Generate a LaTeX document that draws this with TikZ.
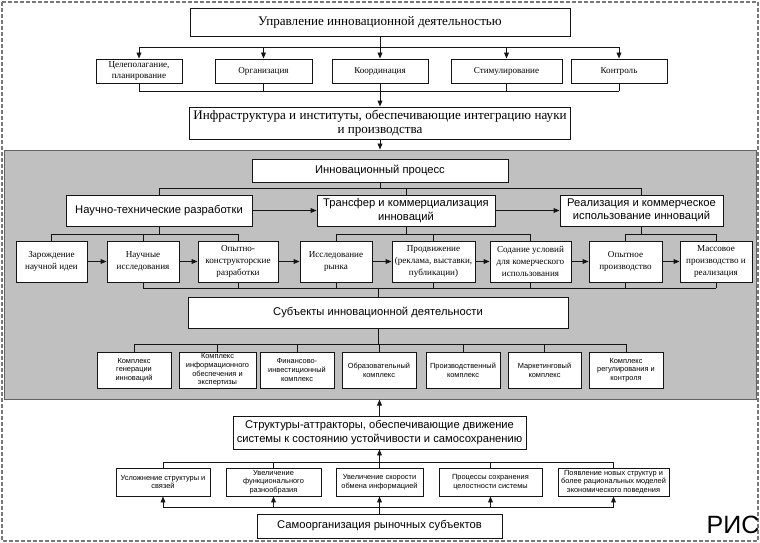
\documentclass[tikz,border=0pt]{standalone}
\usepackage{fontspec}
\setmainfont{Liberation Serif}
\setsansfont{Liberation Sans}
\usetikzlibrary{arrows.meta}
\definecolor{areagray}{RGB}{192,192,192}
\definecolor{areaedge}{RGB}{100,100,100}
\definecolor{framegray}{RGB}{120,120,120}
\definecolor{ink}{RGB}{20,20,20}
\begin{document}
\begin{tikzpicture}[x=1pt,y=-1pt,line width=0.9pt,draw=ink,
  box/.style={draw=ink, fill=white, line width=0.9pt, inner sep=0pt, align=center},
  serifL/.style={font=\fontsize{13.1}{14.2}\selectfont\rmfamily},
  serifS/.style={font=\fontsize{9.1}{11.8}\selectfont\rmfamily},
  sansL/.style={font=\fontsize{11.2}{13.5}\selectfont\sffamily},
  sansS/.style={font=\fontsize{7.4}{8.6}\selectfont\sffamily},
  arr/.style={-{Triangle[length=6pt,width=4.8pt]}},
  frame/.style={draw=framegray, line width=1.2pt, dash pattern=on 4pt off 2pt},
  area/.style={draw=areaedge, fill=areagray, line width=1pt, inner sep=0pt}
]
\useasboundingbox (0,0) rectangle (760,543);
\draw[frame] (2,2) rectangle (758,541);

% ---- top part ----
\node[box, serifL, minimum width=380pt, minimum height=28pt] (top) at (380,22) {Управление инновационной деятельностью};
\node[box, serifS, minimum width=86pt, minimum height=24pt] (n1) at (139,71) {Целеполагание,\\планирование};
\node[box, serifS, minimum width=97pt, minimum height=24pt] (n2) at (263.5,71) {Организация};
\node[box, serifS, minimum width=96pt, minimum height=24pt] (n3) at (380,71) {Координация};
\node[box, serifS, minimum width=111pt, minimum height=24pt] (n4) at (506.5,71) {Стимулирование};
\node[box, serifS, minimum width=96pt, minimum height=24pt] (n5) at (619,71) {Контроль};
\node[box, serifL, minimum width=381pt, minimum height=32pt] (infra) at (380,123) {Инфраструктура и институты, обеспечивающие интеграцию науки\\и производства};

\coordinate (b1) at (380,47);
\coordinate (b2) at (380,91);
\draw (top.south) -- (b1);
\draw (b1 -| n1.north) -- (b1 -| n5.north);
\foreach \n in {n1,n2,n3,n4,n5} \draw[arr] (b1 -| \n.north) -- (\n.north);
\foreach \n in {n1,n2,n3,n4,n5} \draw (\n.south) -- (b2 -| \n.south);
\draw (b2 -| n1.south) -- (b2 -| n5.south);
\draw[arr] (b2) -- (infra.north);

% ---- gray area ----
\node[area, minimum width=752pt, minimum height=249pt] (area) at (380,274.5) {};
\draw[arr] (infra.south) -- (area.north);

\node[box, sansL, minimum width=256pt, minimum height=23pt] (inn) at (380,170.5) {Инновационный процесс};
\node[box, sansL, minimum width=186pt, minimum height=31pt] (ntr) at (159,210.5) {Научно-технические разработки};
\node[box, sansL, minimum width=178pt, minimum height=31pt] (trans) at (406,210.5) {Трансфер и коммерциализация\\инноваций};
\node[box, sansL, minimum width=163pt, minimum height=31pt] (real) at (641.5,210.5) {Реализация и коммерческое\\использование инноваций};

\coordinate (b3) at (380,188);
\draw (inn.south) -- (b3);
\draw (b3 -| ntr.north) -- (b3 -| real.north);
\foreach \n in {ntr,trans,real} \draw (b3 -| \n.north) -- (\n.north);
\draw[arr] (ntr.east) -- (trans.west);
\draw[arr] (trans.east) -- (real.west);

\node[box, serifS, minimum width=71pt, minimum height=41pt] (r1) at (51.5,261.5) {Зарождение\\научной идеи};
\node[box, serifS, minimum width=72pt, minimum height=41pt] (r2) at (143,261.5) {Научные\\исследования};
\node[box, serifS, minimum width=80pt, minimum height=41pt] (r3) at (238,261.5) {Опытно-\\конструкторские\\разработки};
\node[box, serifS, minimum width=72pt, minimum height=41pt] (r4) at (336,261.5) {Исследование\\рынка};
\node[box, serifS, minimum width=83pt, minimum height=41pt] (r5) at (433.5,261.5) {Продвижение\\(реклама, выставки,\\публикации)};
\node[box, serifS, minimum width=81pt, minimum height=41pt] (r6) at (530.5,261.5) {Содание условий\\для комерческого\\использования};
\node[box, serifS, minimum width=73pt, minimum height=41pt] (r7) at (625.5,261.5) {Опытное\\производство};
\node[box, serifS, minimum width=72pt, minimum height=41pt] (r8) at (716,261.5) {Массовое\\производство и\\реализация};

\coordinate (b4) at (0,234);
\draw (ntr.south) -- (b4 -| ntr.south);
\draw (b4 -| r1.north) -- (b4 -| r3.north);
\foreach \n in {r1,r2,r3} \draw (b4 -| \n.north) -- (\n.north);
\draw (trans.south) -- (b4 -| trans.south);
\draw (b4 -| r4.north) -- (b4 -| r6.north);
\foreach \n in {r4,r5,r6} \draw (b4 -| \n.north) -- (\n.north);
\draw (real.south) -- (b4 -| real.south);
\draw (b4 -| r7.north) -- (b4 -| r8.north);
\foreach \n in {r7,r8} \draw (b4 -| \n.north) -- (\n.north);

\foreach \a/\b in {r1/r2,r2/r3,r3/r4,r4/r5,r5/r6,r6/r7,r7/r8} \draw[arr] (\a.east) -- (\b.west);

\node[box, sansL, minimum width=380pt, minimum height=31pt] (subj) at (378,312.5) {Субъекты инновационной деятельности};

\coordinate (b5) at (0,288);
\foreach \n in {r2,r3,r4,r5,r6,r7,r8} \draw (\n.south) -- (b5 -| \n.south);
\draw (b5 -| r2.south) -- (b5 -| r8.south);
\draw (b5 -| subj.north) -- (subj.north);

\node[box, sansS, minimum width=74pt, minimum height=36pt] (s1) at (134,370) {Комплекс\\генерации\\инноваций};
\node[box, sansS, minimum width=77pt, minimum height=36pt] (s2) at (217.5,370) {Комплекс\\информационного\\обеспечения и\\экспертизы};
\node[box, sansS, minimum width=74pt, minimum height=36pt] (s3) at (297,370) {Финансово-\\инвестиционный\\комплекс};
\node[box, sansS, minimum width=74pt, minimum height=36pt] (s4) at (379,370) {Образовательный\\комплекс};
\node[box, sansS, minimum width=74pt, minimum height=36pt] (s5) at (463,370) {Производственный\\комплекс};
\node[box, sansS, minimum width=73pt, minimum height=36pt] (s6) at (544.5,370) {Маркетинговый\\комплекс};
\node[box, sansS, minimum width=74pt, minimum height=36pt] (s7) at (626,370) {Комплекс\\регулирования и\\контроля};

\coordinate (b6) at (0,344);
\draw (subj.south) -- (b6 -| subj.south);
\draw (b6 -| s1.north) -- (b6 -| s7.north);
\foreach \n in {s1,s2,s3,s4,s5,s6,s7} \draw (b6 -| \n.north) -- (\n.north);

% ---- bottom part ----
\node[box, sansL, minimum width=293pt, minimum height=33pt] (struct) at (379.5,432.5) {Структуры-аттракторы, обеспечивающие движение\\системы к состоянию устойчивости и самосохранению};
\draw[arr] (struct.north) -- (area.south -| struct.north);

\node[box, sansS, minimum width=94pt, minimum height=28pt] (t1) at (163,482) {Усложнение структуры и\\связей};
\node[box, sansS, minimum width=95pt, minimum height=28pt] (t2) at (273.5,482) {Увеличение\\функционального\\разнообразия};
\node[box, sansS, minimum width=87pt, minimum height=28pt] (t3) at (379.5,482) {Увеличение скорости\\обмена информацией};
\node[box, sansS, minimum width=103pt, minimum height=28pt] (t4) at (490.5,482) {Процессы сохранения\\целостности системы};
\node[box, sansS, minimum width=111pt, minimum height=28pt] (t5) at (613.5,482) {Появление новых структур и\\более рациональных моделей\\экономического поведения};

\node[box, sansL, minimum width=245pt, minimum height=24pt] (self) at (379.5,526) {Самоорганизация рыночных субъектов};

\coordinate (b7) at (0,462);
\draw[arr] (b7 -| struct.south) -- (struct.south);
\draw (b7 -| t1.north) -- (b7 -| t5.north);
\foreach \n in {t1,t2,t3,t4,t5} \draw (b7 -| \n.north) -- (\n.north);

\coordinate (b8) at (0,507);
\draw (self.north) -- (b8 -| self.north);
\draw (b8 -| t1.south) -- (b8 -| t5.south);
\foreach \n in {t1,t2,t3,t4,t5} \draw[arr] (b8 -| \n.south) -- (\n.south);

\node[font=\fontsize{25}{25}\selectfont\sffamily, inner sep=0pt, anchor=base] (ris) at (733,533) {РИС};
\end{tikzpicture}
\end{document}
